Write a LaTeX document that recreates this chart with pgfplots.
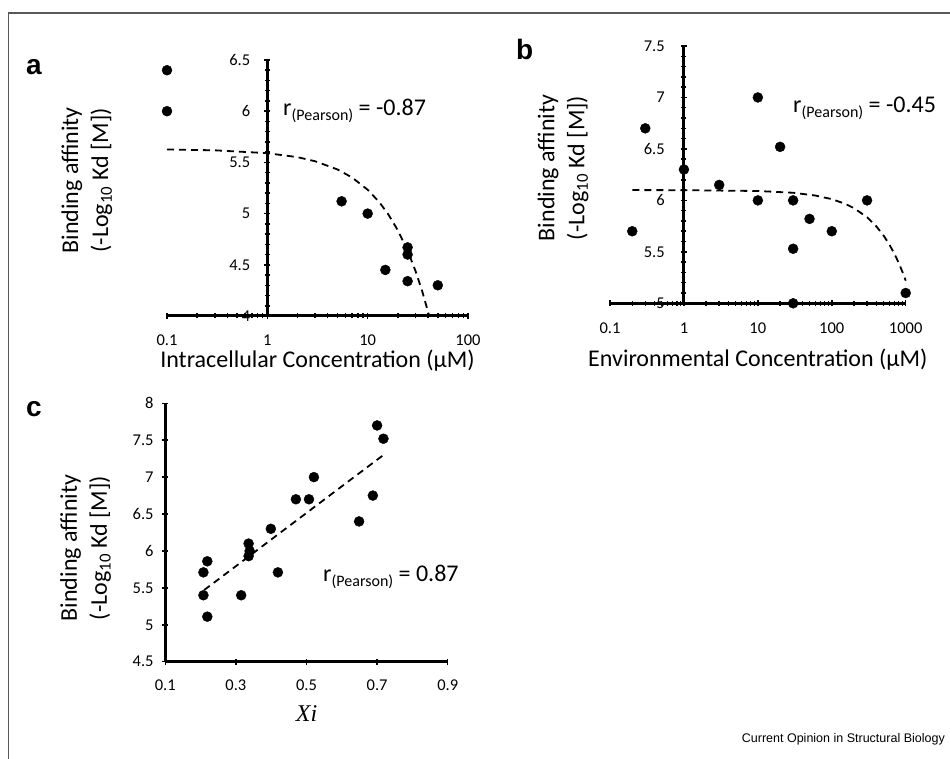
\documentclass[border=0pt]{standalone}
\usepackage{fontspec}
\setmainfont{Carlito}
\newfontfamily\arialfont{Liberation Sans}
\newfontfamily\seriffont{Liberation Serif}
\usepackage{pgfplots}
\pgfplotsset{compat=1.18}

\pgfplotsset{
  panel/.style={
    scale only axis, clip=false,
    tick align=inside,
    major tick length=6pt, minor tick length=5pt,
    tick style={black, line width=1.5pt},
    tick label style={font=\fontsize{16.5}{19}\selectfont},
    /pgf/number format/assume math mode=true,
  },
  noarrows/.style={
    axis line style={-, line width=3pt, black},
    every inner x axis line/.append style={-},
    every outer x axis line/.append style={-},
    every inner y axis line/.append style={-},
    every outer y axis line/.append style={-},
  },
  dot/.style={only marks, mark=*, mark size=5pt, black},
  fit/.style={no marks, black, line width=1.8pt, dash pattern=on 7pt off 5pt},
}

\begin{document}
\begin{tikzpicture}
\path[use as bounding box] (0,0) rectangle (950pt,759pt);
\draw[line width=1.5pt, black!65] (8.7pt,0) -- (8.7pt,746pt) -- (950pt,746pt);

% panel a
\begin{axis}[panel,
  at={(167pt,443pt)}, anchor=south west,
  width=301pt, height=256pt,
  xmode=log, xmin=0.1, xmax=100, ymin=4, ymax=6.5,
  axis x line=bottom, axis y line=middle, noarrows,
  hide obscured x ticks=false, hide obscured y ticks=false,
  xtick={0.1,1,10,100}, xticklabels={0.1,1,10,100},
  ytick={4,4.5,5,5.5,6,6.5}, minor y tick num=4,
  xticklabel style={anchor=north, inner ysep=0pt, yshift=-16pt},
  yticklabel style={anchor=east, inner xsep=0pt, xshift=-14pt},
  xlabel={Intracellular Concentration (μM)},
  ylabel={Binding affinity\\(-Log\textsubscript{10} Kd [M])},
  every axis x label/.style={at={(axis description cs:0.5,-0.203)}, anchor=base, font=\fontsize{24}{30}\selectfont},
  every axis y label/.style={at={(axis description cs:-0.266,0.53)}, anchor=center, rotate=90, align=center, font=\fontsize{24}{30}\selectfont},
]
\addplot[fit] coordinates {(0.1,5.626) (0.3,5.618) (1,5.590) (2,5.551) (3,5.511) (5,5.431) (7,5.352) (10,5.233) (13,5.114) (16,4.995) (20,4.836) (25,4.637) (30,4.439) (35,4.240) (41,4.002)};
\addplot[dot] coordinates {(0.1,6.40) (0.1,6.00) (5.5,5.12) (10,5.00) (15,4.45) (25,4.67) (25,4.60) (25,4.34) (50,4.30)};
\end{axis}

% panel b
\begin{axis}[panel,
  at={(610pt,455.7pt)}, anchor=south west,
  width=295.7pt, height=257.3pt,
  xmode=log, xmin=0.1, xmax=1000, ymin=5, ymax=7.5,
  axis x line=bottom, axis y line=middle, noarrows,
  hide obscured x ticks=false, hide obscured y ticks=false,
  xtick={0.1,1,10,100,1000}, xticklabels={0.1,1,10,100,1000},
  ytick={5,5.5,6,6.5,7,7.5}, minor y tick num=4,
  xticklabel style={anchor=north, inner ysep=0pt, yshift=-16pt},
  yticklabel style={anchor=east, inner xsep=0pt, xshift=-16pt},
  xlabel={Environmental Concentration (μM)},
  ylabel={Binding affinity\\(-Log\textsubscript{10} Kd [M])},
  every axis x label/.style={at={(axis description cs:0.5,-0.244)}, anchor=base, font=\fontsize{24}{30}\selectfont},
  every axis y label/.style={at={(axis description cs:-0.159,0.526)}, anchor=center, rotate=90, align=center, font=\fontsize{24}{30}\selectfont},
]
\addplot[fit] coordinates {(0.2,6.100) (1,6.099) (10,6.091) (30,6.074) (60,6.047) (100,6.012) (150,5.968) (200,5.924) (300,5.836) (400,5.748) (500,5.660) (600,5.572) (700,5.484) (800,5.396) (900,5.308) (1000,5.220)};
\addplot[dot] coordinates {(0.2,5.70) (0.3,6.70) (1,6.30) (3,6.15) (10,7.00) (10,6.00) (20,6.52) (30,6.00) (30,5.53) (30,5.00) (50,5.82) (100,5.70) (300,6.00) (1000,5.10)};
\end{axis}

% panel c
\begin{axis}[panel,
  at={(165.3pt,97.3pt)}, anchor=south west,
  width=282.4pt, height=258.4pt,
  xmin=0.1, xmax=0.9, ymin=4.5, ymax=8,
  axis x line=bottom, axis y line=left, noarrows,
  xtick={0.1,0.3,0.5,0.7,0.9},
  ytick={4.5,5,5.5,6,6.5,7,7.5,8},
  xticklabel style={anchor=north, inner ysep=0pt, yshift=-15pt},
  yticklabel style={anchor=east, inner xsep=0pt, xshift=-8.5pt},
  xlabel={\seriffont\itshape Xi},
  ylabel={Binding affinity\\(-Log\textsubscript{10} Kd [M])},
  every axis x label/.style={at={(axis description cs:0.5,-0.232)}, anchor=base, font=\fontsize{24}{30}\selectfont},
  every axis y label/.style={at={(axis description cs:-0.282,0.44)}, anchor=center, rotate=90, align=center, font=\fontsize{24}{30}\selectfont},
]
\addplot[fit] coordinates {(0.21,5.47) (0.718,7.30)};
\addplot[dot] coordinates {(0.700,7.70) (0.718,7.52) (0.521,7.00) (0.470,6.70) (0.507,6.70) (0.688,6.75) (0.649,6.40) (0.399,6.30) (0.336,6.10) (0.339,6.00) (0.336,5.93) (0.419,5.71) (0.219,5.86) (0.208,5.71) (0.208,5.40) (0.315,5.40) (0.219,5.11)};
\end{axis}

\node[anchor=base west, inner sep=0pt, font=\fontsize{24}{28}\selectfont] at (283pt,643pt) {r\raisebox{-5pt}{\fontsize{16}{16}\selectfont(Pearson)} = -0.87};
\node[anchor=base west, inner sep=0pt, font=\fontsize{24}{28}\selectfont] at (793pt,646pt) {r\raisebox{-5pt}{\fontsize{16}{16}\selectfont(Pearson)} = -0.45};
\node[anchor=base west, inner sep=0pt, font=\fontsize{24}{28}\selectfont] at (323pt,177pt) {r\raisebox{-5pt}{\fontsize{16}{16}\selectfont(Pearson)} = 0.87};

\node[anchor=base west, inner sep=0pt, font=\arialfont\bfseries\fontsize{28}{28}\selectfont] at (26pt,684pt) {a};
\node[anchor=base west, inner sep=0pt, font=\arialfont\bfseries\fontsize{28}{28}\selectfont] at (516pt,699pt) {b};
\node[anchor=base west, inner sep=0pt, font=\arialfont\bfseries\fontsize{28}{28}\selectfont] at (26pt,342pt) {c};

\node[anchor=base east, inner sep=0pt, font=\arialfont\fontsize{12.5}{14}\selectfont] at (945pt,16pt) {Current Opinion in Structural Biology};
\end{tikzpicture}
\end{document}
